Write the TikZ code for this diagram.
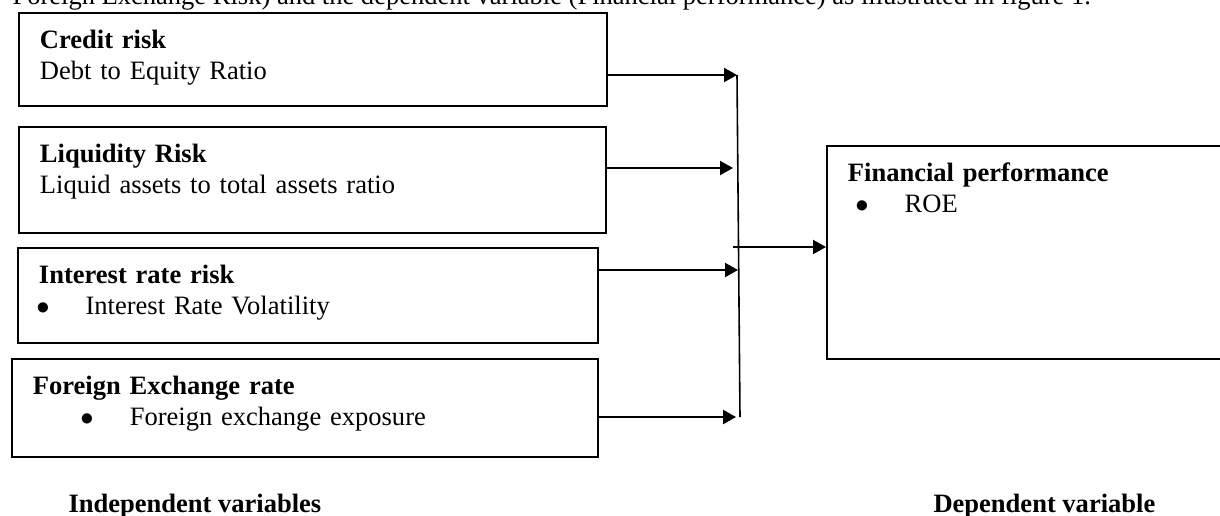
\documentclass[tikz,border=0pt]{standalone}
\usepackage{fontspec}
\setmainfont{Liberation Serif}
\usetikzlibrary{arrows.meta}
\newcommand{\wordbullet}[1]{\hspace*{#1}$\bullet$\hspace{13.6pt}}
\tikzset{
  >={Triangle[width=5.3pt,length=4.9pt]},
  % Specifications for style of nodes:
     varbox/.style = {rectangle, draw=black, line width=0.75pt,
                      anchor=north west, inner xsep=7.9pt, inner ysep=0pt,
                      align=left, text height=13.2pt, font=\fontsize{10}{11.8}\selectfont},
    caption/.style = {anchor=base west, inner sep=0pt, font=\bfseries},
       link/.style = {->, line width=0.75pt},
        bus/.style = {line width=0.6pt},
}
\begin{document}
\begin{tikzpicture}[x=0.377pt, y=-0.377pt]
    \useasboundingbox (0,0) rectangle (1220,515);
    % Specification of nodes (position, etc.)
    \node (introLine) [anchor=base west, inner sep=0pt] at (12,4)
      {Foreign Exchange Risk) and the dependent variable (Financial performance) as illustrated in figure 1.};
    \node (credit)    [varbox, text width=205.9pt, text depth=21.9pt] at (18,12)
      {\textbf{Credit risk}\\Debt to Equity Ratio};
    \node (liquidity) [varbox, text width=205.5pt, text depth=26.8pt] at (18,126)
      {\textbf{Liquidity Risk}\\Liquid assets to total assets ratio};
    \node (interest)  [varbox, text width=202.9pt, text depth=22.6pt] at (17,247)
      {\textbf{Interest rate risk}\\\wordbullet{-1pt}Interest Rate Volatility};
    \node (foreign)   [varbox, text width=205.1pt, text depth=23.7pt] at (11,358)
      {\textbf{Foreign Exchange rate}\\\wordbullet{17.9pt}Foreign exchange exposure};
    \node (perf)      [varbox, text width=140.3pt, text depth=67.1pt] at (826,145)
      {\textbf{Financial performance}\\\wordbullet{2.8pt}ROE};
    \node (indepLabel) [caption] at (68,512) {Independent variables};
    \node (depLabel)   [caption] at (933,512) {Dependent variable};

    % Specification of lines between nodes specified above
    \coordinate (busTop)      at (737,75);
    \coordinate (busBottom)   at (740,417);
    \coordinate (creditIn)    at (737,75);
    \coordinate (liquidityIn) at (733,168);
    \coordinate (interestIn)  at (738,270);
    \coordinate (foreignIn)   at (736,417);
    \coordinate (busOut)      at (733,247);

    \draw[bus]  (busTop) -- (busBottom);
    \draw[link] (credit.east |- creditIn)       -- (creditIn);
    \draw[link] (liquidity.east |- liquidityIn) -- (liquidityIn);
    \draw[link] (interest.east |- interestIn)   -- (interestIn);
    \draw[link] (foreign.east |- foreignIn)     -- (foreignIn);
    \draw[link] (busOut) -- (busOut -| perf.west);
\end{tikzpicture}
\end{document}
